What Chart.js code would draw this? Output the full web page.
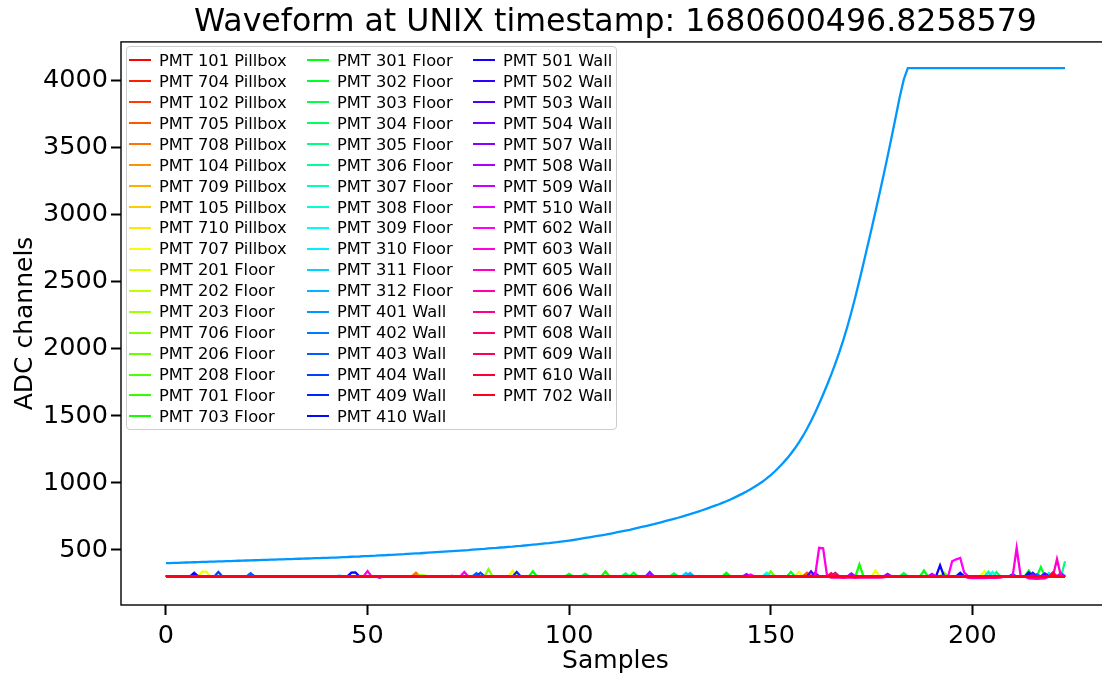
<!DOCTYPE html>
<html lang="en">
<head>
    <meta charset="utf-8">
    <title>Waveform at UNIX timestamp</title>
    <script src="https://cdn.jsdelivr.net/npm/chart.js@4.4.0/dist/chart.umd.min.js"></script>
    <style>
        html, body {
            margin: 0;
            padding: 0;
            background: #fff;
            overflow: hidden;
        }
        #wrap {
            position: relative;
            width: 1110px;
            height: 677px;
        }
        #legend {
            position: absolute;
            left: 126px;
            top: 46px;
            width: 491px;
            height: 384px;
            box-sizing: border-box;
            padding: 3px 0 0 2px;
            background: rgba(255, 255, 255, 0.8);
            border: 1px solid #cccccc;
            border-radius: 4px;
            display: grid;
            grid-template-columns: 178px 166px auto;
            grid-template-rows: repeat(18, 20.94px);
            grid-auto-flow: column;
            font-family: "DejaVu Sans", sans-serif;
            font-size: 16.3px;
            color: #000;
        }
        #legend .item {
            display: flex;
            align-items: center;
            white-space: nowrap;
        }
        #legend .swatch {
            width: 22px;
            height: 2px;
            margin-right: 8px;
        }
    </style>
</head>
<body>

<div id="wrap">
    <canvas id="myChart" width="1110" height="677"></canvas>
    <div id="legend"></div>
</div>

<script>
    const titleText = 'Waveform at UNIX timestamp: 1680600496.8258579'

    const pmtNames = [
        'PMT 101 Pillbox', 'PMT 704 Pillbox', 'PMT 102 Pillbox', 'PMT 705 Pillbox', 'PMT 708 Pillbox',
        'PMT 104 Pillbox', 'PMT 709 Pillbox', 'PMT 105 Pillbox', 'PMT 710 Pillbox', 'PMT 707 Pillbox',
        'PMT 201 Floor', 'PMT 202 Floor', 'PMT 203 Floor', 'PMT 706 Floor', 'PMT 206 Floor',
        'PMT 208 Floor', 'PMT 701 Floor', 'PMT 703 Floor',
        'PMT 301 Floor', 'PMT 302 Floor', 'PMT 303 Floor', 'PMT 304 Floor', 'PMT 305 Floor',
        'PMT 306 Floor', 'PMT 307 Floor', 'PMT 308 Floor', 'PMT 309 Floor', 'PMT 310 Floor',
        'PMT 311 Floor', 'PMT 312 Floor',
        'PMT 401 Wall', 'PMT 402 Wall', 'PMT 403 Wall', 'PMT 404 Wall', 'PMT 409 Wall', 'PMT 410 Wall',
        'PMT 501 Wall', 'PMT 502 Wall', 'PMT 503 Wall', 'PMT 504 Wall', 'PMT 507 Wall', 'PMT 508 Wall',
        'PMT 509 Wall', 'PMT 510 Wall', 'PMT 602 Wall', 'PMT 603 Wall', 'PMT 605 Wall', 'PMT 606 Wall',
        'PMT 607 Wall', 'PMT 608 Wall', 'PMT 609 Wall', 'PMT 610 Wall', 'PMT 702 Wall'
    ]

    // sample index 0..223
    const samples = Array.from({length: 224}, (_, i) => i)

    const xTicks = [0, 50, 100, 150, 200]
    const yTicks = [500, 1000, 1500, 2000, 2500, 3000, 3500, 4000]

    // the channel that saturates (PMT 401 Wall)
    const pmt401 = [
        401, 402, 403, 404, 405, 406, 407, 408, 409, 410,
        411, 412, 413, 414, 415, 416, 417, 418, 419, 420,
        421, 422, 423, 424, 425, 426, 427, 428, 429, 430,
        431, 432, 433, 434, 435, 436, 437, 438, 439, 440,
        441, 442, 443, 445, 446, 447, 449, 450, 451, 453,
        454, 456, 457, 459, 460, 462, 463, 465, 467, 468,
        470, 472, 474, 475, 477, 479, 481, 483, 485, 487,
        489, 491, 493, 495, 497, 499, 502, 504, 506, 508,
        511, 513, 515, 518, 520, 523, 525, 528, 530, 533,
        536, 539, 542, 545, 548, 551, 555, 558, 562, 566,
        570, 574, 579, 584, 589, 594, 599, 604, 609, 614,
        620, 626, 632, 638, 644, 650, 657, 664, 671, 678,
        685, 692, 700, 708, 716, 724, 732, 740, 749, 758,
        767, 776, 786, 796, 806, 817, 828, 839, 851, 863,
        876, 890, 905, 920, 936, 953, 971, 990, 1010, 1033,
        1058, 1085, 1115, 1147, 1181, 1218, 1258, 1302, 1350, 1404,
        1462, 1524, 1590, 1660, 1732, 1808, 1888, 1973, 2065, 2165,
        2273, 2389, 2511, 2637, 2765, 2895, 3027, 3161, 3298, 3438,
        3582, 3730, 3880, 4010, 4095, 4095, 4095, 4095, 4095, 4095,
        4095, 4095, 4095, 4095, 4095, 4095, 4095, 4095, 4095, 4095,
        4095, 4095, 4095, 4095, 4095, 4095, 4095, 4095, 4095, 4095,
        4095, 4095, 4095, 4095, 4095, 4095, 4095, 4095, 4095, 4095,
        4095, 4095, 4095, 4095
    ]
    const saturatedIndex = 30

    // pedestal of the quiet channels
    const baseline = 302

    // [channel index, sample, ADC value] where a quiet channel leaves its pedestal
    const blips = [
        [36, 7, 330], [9, 9, 338], [9, 10, 338], [33, 13, 336], [32, 21, 326],
        [28, 43, 308], [35, 46, 330], [35, 47, 332], [45, 50, 342], [41, 53, 292],
        [4, 62, 330], [12, 63, 312], [12, 64, 310], [42, 71, 306], [45, 74, 336],
        [32, 77, 326], [33, 78, 330], [13, 80, 356], [9, 86, 345], [34, 87, 335],
        [18, 91, 340], [19, 100, 322], [20, 104, 322], [17, 109, 340], [21, 114, 325],
        [19, 116, 330], [32, 120, 336], [41, 120, 328], [20, 126, 325], [28, 129, 328],
        [29, 130, 328], [18, 139, 330], [41, 144, 320], [44, 145, 316], [26, 149, 330],
        [14, 150, 340], [19, 155, 336], [9, 157, 336], [3, 159, 330], [1, 159, 325],
        [38, 160, 340], [39, 161, 330], [45, 162, 516], [45, 163, 512], [50, 165, 326],
        [49, 166, 328], [25, 166, 330], [21, 166, 322], [41, 170, 325], [17, 172, 392],
        [9, 176, 346], [41, 179, 322], [20, 183, 326], [18, 188, 346], [42, 190, 322],
        [36, 192, 385], [14, 193, 330], [44, 195, 415], [44, 196, 430], [44, 197, 440],
        [44, 198, 330], [35, 197, 330], [9, 203, 342], [10, 204, 338], [27, 204, 335],
        [26, 205, 336], [21, 206, 334], [33, 210, 318], [45, 211, 514], [18, 214, 345],
        [35, 214, 332], [34, 215, 330], [40, 215, 320], [31, 216, 318], [19, 217, 372],
        [13, 218, 322], [38, 218, 325], [27, 219, 328], [51, 220, 332], [46, 221, 432],
        [42, 222, 324], [28, 222, 330], [22, 223, 415],
        [47, 165, 294], [47, 166, 293], [47, 167, 293], [47, 168, 292], [47, 169, 293],
        [47, 170, 293], [47, 171, 292], [47, 172, 293], [47, 173, 294], [47, 174, 293],
        [47, 175, 293], [47, 176, 294], [47, 177, 294], [47, 178, 295],
        [47, 199, 291], [47, 200, 290], [47, 201, 290], [47, 202, 290], [47, 203, 290],
        [47, 204, 291], [47, 205, 291], [47, 206, 292], [47, 207, 293],
        [47, 214, 288], [47, 215, 286], [47, 216, 285], [47, 217, 286], [47, 218, 288]
    ]

    // matplotlib "hsv" colormap
    const hsvSeg = {
        r: [[0, 1], [0.158730, 1], [0.174603, 0.96875], [0.333333, 0.03125], [0.349206, 0], [0.666667, 0], [0.682540, 0], [0.841270, 1], [0.857143, 1], [1, 1]],
        g: [[0, 0], [0.158730, 0.9375], [0.174603, 1], [0.507937, 1], [0.666667, 0.0625], [0.682540, 0], [1, 0]],
        b: [[0, 0], [0.333333, 0], [0.349206, 0.0625], [0.507937, 1], [0.841270, 1], [0.857143, 0.9375], [1, 0.09375]]
    }
    function seg(points, t) {
        for (let k = 1; k < points.length; k++) {
            if (t <= points[k][0]) {
                const [x0, y0] = points[k - 1]
                const [x1, y1] = points[k]
                return y0 + (y1 - y0) * (t - x0) / (x1 - x0)
            }
        }
        return points[points.length - 1][1]
    }
    function hsv(t) {
        const c = ['r', 'g', 'b'].map(k => Math.round(255 * seg(hsvSeg[k], t)))
        return 'rgb(' + c.join(',') + ')'
    }

    const series = pmtNames.map((name, i) => i === saturatedIndex ? pmt401.slice() : samples.map(() => baseline))
    blips.forEach(([ch, s, v]) => { series[ch][s] = v })

    const datasets = pmtNames.map((name, i) => ({
        label: name,
        data: series[i],
        borderColor: hsv(i / (pmtNames.length - 1)),
        backgroundColor: hsv(i / (pmtNames.length - 1)),
        borderWidth: 2.3,
        pointRadius: 0,
        fill: false,
        tension: 0,
        // later channels on top, as in the original
        order: pmtNames.length - 1 - i
    }))

    const frame = {
        id: 'frame',
        afterDatasetsDraw(chart) {
            const {ctx, chartArea: a} = chart
            ctx.save()
            ctx.strokeStyle = '#000'
            ctx.lineWidth = 1.4
            ctx.strokeRect(a.left, a.top, a.right - a.left, a.bottom - a.top)
            ctx.restore()
        }
    }

    const font = 'DejaVu Sans'

    const myChart = new Chart(document.getElementById('myChart'), {
        type: 'line',
        data: {labels: samples, datasets: datasets},
        plugins: [frame],
        options: {
            responsive: false,
            animation: false,
            layout: {padding: 0},
            plugins: {
                legend: {display: false},
                tooltip: {enabled: false},
                title: {
                    display: true,
                    text: titleText,
                    fullSize: false,
                    color: '#000',
                    font: {family: font, size: 31.6, weight: 'normal'},
                    padding: {top: 4, bottom: 0}
                }
            },
            scales: {
                x: {
                    type: 'linear',
                    min: -11.15,
                    max: 234.15,
                    afterFit: s => { s.height = 72 },
                    afterBuildTicks: s => { s.ticks = xTicks.map(v => ({value: v})) },
                    border: {display: false},
                    grid: {drawOnChartArea: false, tickLength: 10, tickWidth: 2, tickColor: '#000'},
                    ticks: {color: '#000', padding: 6, maxRotation: 0, font: {family: font, size: 25.5}},
                    title: {
                        display: true, text: 'Samples', color: '#000',
                        font: {family: font, size: 25}, padding: {top: 0, bottom: 1}
                    }
                },
                y: {
                    min: 89,
                    max: 4290,
                    afterFit: s => { s.width = 121 },
                    afterBuildTicks: s => { s.ticks = yTicks.map(v => ({value: v})) },
                    border: {display: false},
                    grid: {drawOnChartArea: false, tickLength: 10, tickWidth: 2, tickColor: '#000'},
                    ticks: {color: '#000', padding: 3, font: {family: font, size: 25.5}, callback: v => String(v)},
                    title: {
                        display: true, text: 'ADC channels', color: '#000',
                        font: {family: font, size: 25}, padding: {top: 10, bottom: 0}
                    }
                }
            }
        }
    })

    // html legend, three columns like the original
    const legendBox = document.getElementById('legend')
    myChart.options.plugins.legend.labels.generateLabels(myChart)
        .sort((a, b) => a.datasetIndex - b.datasetIndex)
        .forEach(item => {
            const row = document.createElement('div')
            row.className = 'item'
            const sw = document.createElement('span')
            sw.className = 'swatch'
            sw.style.background = item.strokeStyle
            const txt = document.createElement('span')
            txt.textContent = item.text
            row.appendChild(sw)
            row.appendChild(txt)
            legendBox.appendChild(row)
        })
</script>

</body>
</html>
